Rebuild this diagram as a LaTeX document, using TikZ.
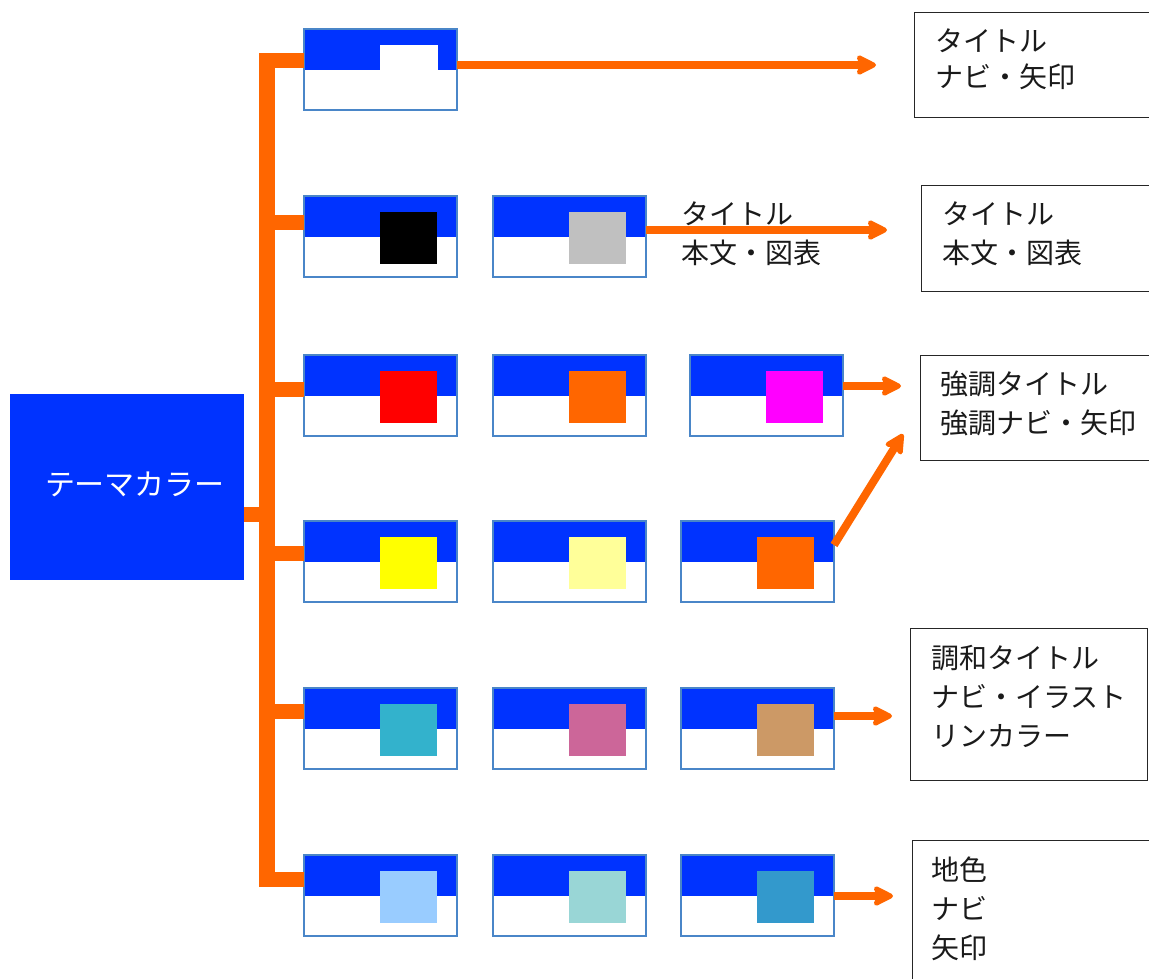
\documentclass[tikz,border=0pt]{standalone}
\usepackage{fontspec}
\newfontfamily\jpfont{Noto Sans CJK JP}
\usetikzlibrary{arrows.meta,calc}
\definecolor{themeblue}{HTML}{0033FF}
\definecolor{orng}{HTML}{FF6600}
\definecolor{cardedge}{HTML}{4A86C8}
\definecolor{txt}{HTML}{1A1A1A}
\definecolor{sqgray}{HTML}{C0C0C0}
\definecolor{sqred}{HTML}{FF0000}
\definecolor{sqmag}{HTML}{FF00FF}
\definecolor{sqyel}{HTML}{FFFF00}
\definecolor{sqlyel}{HTML}{FFFF99}
\definecolor{sqteal}{HTML}{33B2CC}
\definecolor{sqpink}{HTML}{CC6699}
\definecolor{sqtan}{HTML}{CC9966}
\definecolor{sqsky}{HTML}{99CCFF}
\definecolor{sqaqua}{HTML}{99D6D6}
\definecolor{sqblue}{HTML}{3399CC}
\tikzset{
  card/.style={draw=cardedge, line width=1.3pt, fill=white, minimum width=153pt, minimum height=81pt,
    inner sep=0pt, outer sep=0pt, anchor=north west,
    path picture={
      \fill[themeblue] (path picture bounding box.north west) rectangle ([yshift=-41pt]path picture bounding box.north east);
      \fill[#1] ([xshift=76pt,yshift=-16pt]path picture bounding box.north west) rectangle ++(57pt,-52pt);
    }},
  notchcard/.style={draw=cardedge, line width=1.3pt, fill=white, minimum width=153pt, minimum height=81pt,
    inner sep=0pt, outer sep=0pt, anchor=north west,
    path picture={
      \fill[themeblue] (path picture bounding box.north west) rectangle ([yshift=-41pt]path picture bounding box.north east);
      \fill[white] ([xshift=76pt,yshift=-16pt]path picture bounding box.north west) rectangle ++(58pt,-26pt);
    }},
  bar/.style={draw=orng, line width=15pt, line cap=butt},
  arr/.style={draw=orng, line width=8pt, -{Stealth[length=24pt,width=24pt,inset=5pt,line join=round]}},
  tbox/.style={draw=black!85, line width=1.3pt, inner sep=0pt, anchor=north west},
  lab/.style={font=\jpfont\fontsize{28}{39}\selectfont, text=txt, align=left, anchor=north west, inner sep=0pt}
}
\begin{document}
\begin{tikzpicture}[x=1pt,y=-1pt]
\useasboundingbox (0,0) rectangle (1149,978);
% main box
\node[fill=themeblue, minimum width=234pt, minimum height=186pt, inner sep=0pt] (main) at (127,487) {};
\node[font=\jpfont\fontsize{30}{34}\selectfont, text=white, inner sep=0pt] (maintxt) at (135,484) {テーマカラー};
% cards
\node[notchcard] (c11) at (304,29) {};
\node[card=black] (c21) at (304,196) {};
\node[card=sqgray] (c22) at (493,196) {};
\node[card=sqred] (c31) at (304,355) {};
\node[card=orng] (c32) at (493,355) {};
\node[card=sqmag] (c33) at (690,355) {};
\node[card=sqyel] (c41) at (304,521) {};
\node[card=sqlyel] (c42) at (493,521) {};
\node[card=orng] (c43) at (681,521) {};
\node[card=sqteal] (c51) at (304,688) {};
\node[card=sqpink] (c52) at (493,688) {};
\node[card=sqtan] (c53) at (681,688) {};
\node[card=sqsky] (c61) at (304,855) {};
\node[card=sqaqua] (c62) at (493,855) {};
\node[card=sqblue] (c63) at (681,855) {};
% trunk
\coordinate (ttop) at (267,57);
\coordinate (tbot) at (267,883);
\coordinate (stub) at (267,514);
\coordinate (t1) at (259,60);
\coordinate (t2) at (259,222);
\coordinate (t3) at (259,389);
\coordinate (t4) at (259,553);
\coordinate (t5) at (259,711);
\coordinate (t6) at (259,879);
\draw[draw=orng, line width=16pt] (ttop) -- (tbot);
\draw[bar] (main.east |- stub) -- (stub);
\foreach \i in {1,...,6} {\draw[bar] (t\i) -- (t\i -| c\i1.west);}
% text boxes
\node[tbox, minimum width=250pt, minimum height=105pt] (b1) at (914,12) {};
\node[tbox, minimum width=250pt, minimum height=106pt] (b2) at (921,185) {};
\node[tbox, minimum width=250pt, minimum height=105pt] (b3) at (920,355) {};
\node[tbox, minimum width=237pt, minimum height=152pt] (b4) at (910,628) {};
\node[tbox, minimum width=250pt, minimum height=160pt] (b5) at (912,840) {};
\node[lab, font=\jpfont\fontsize{28}{36}\selectfont] (l1) at (935,29) {タイトル\\ナビ・矢印};
\node[lab] (l2) at (942,202) {タイトル\\本文・図表};
\node[lab] (l3) at (940,371) {強調タイトル\\強調ナビ・矢印};
\node[lab] (l4) at (931,645) {調和タイトル\\ナビ・イラスト\\リンカラー};
\node[lab] (l5) at (931,857) {地色\\ナビ\\矢印};
\node[lab] (lm) at (681,202) {タイトル\\本文・図表};
% arrows
\coordinate (e1) at (876,65);
\coordinate (e2) at (887,230);
\coordinate (e3) at (901,386);
\coordinate (e4) at (903,434);
\coordinate (e5) at (892,716);
\coordinate (e6) at (893,896);
\draw[arr] (c11.east |- e1) -- (e1);
\draw[arr] (c22.east |- e2) -- (e2);
\draw[arr] (c33.east |- e3) -- (e3);
\draw[arr] ($(c43.north east)+(0,24)$) -- (e4);
\draw[arr] (c53.east |- e5) -- (e5);
\draw[arr] (c63.east |- e6) -- (e6);
\end{tikzpicture}
\end{document}
